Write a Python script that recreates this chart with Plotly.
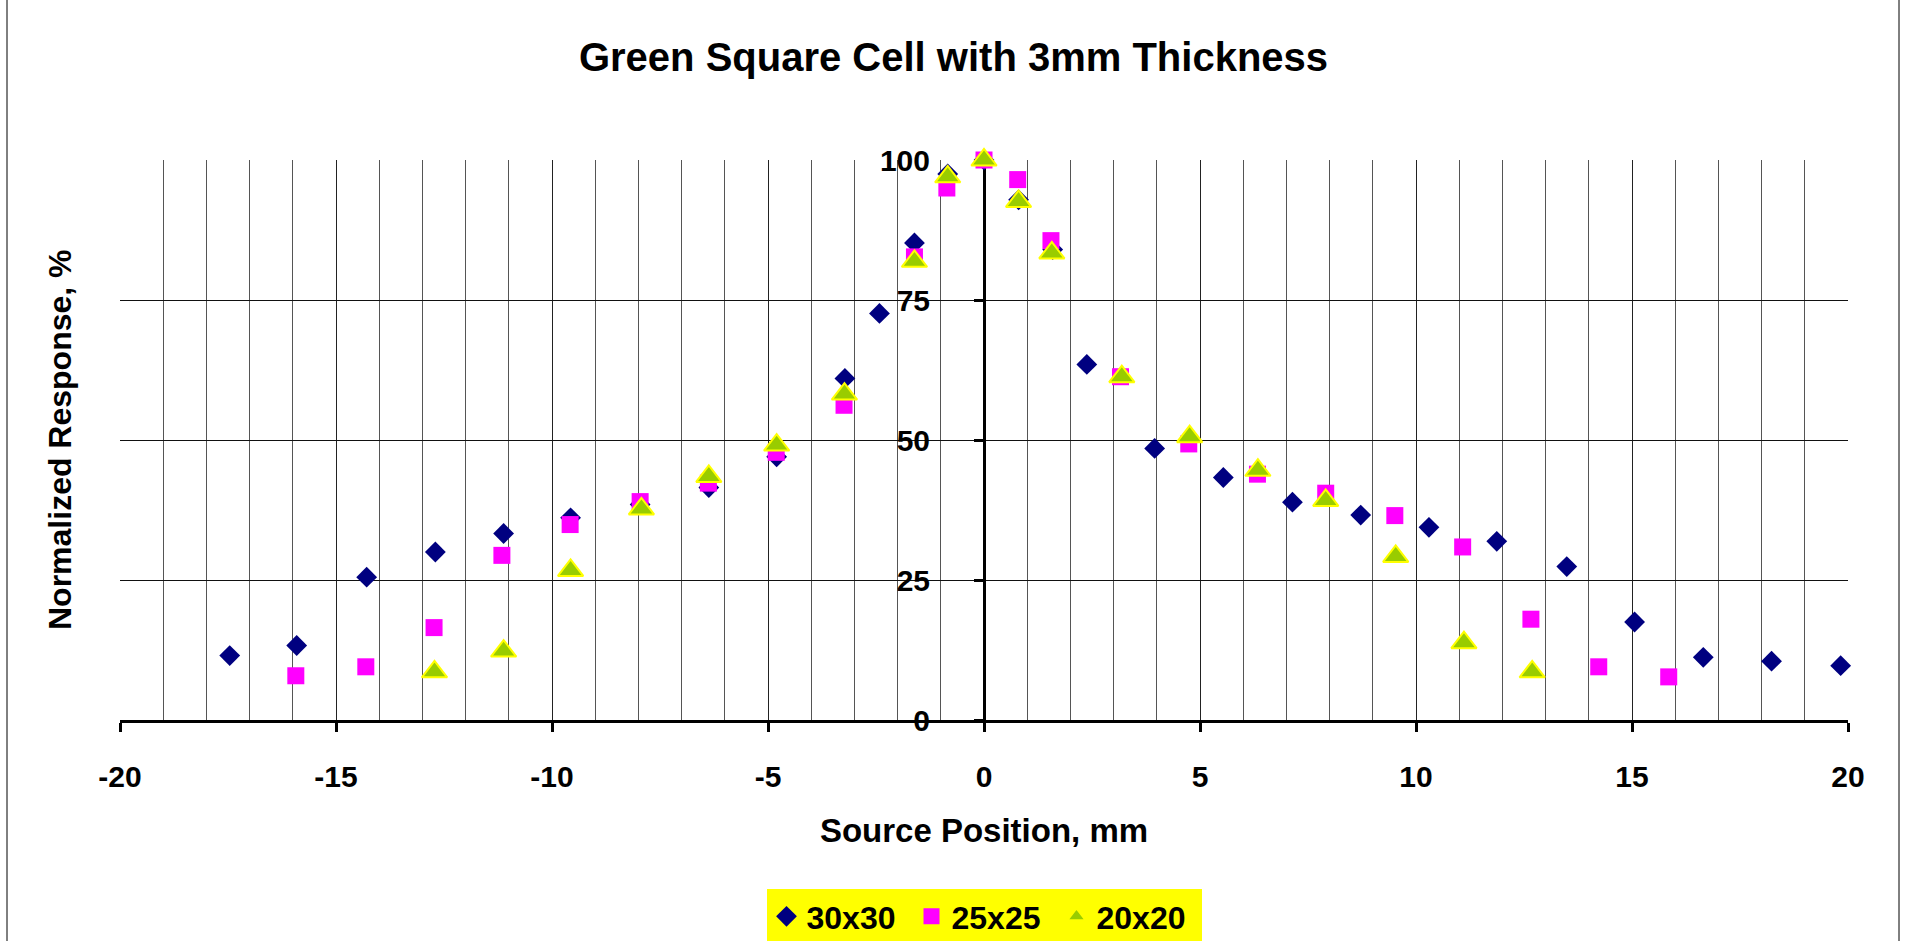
import plotly.graph_objects as go

# ---- data ----
x_30 = [-17.46, -15.91, -14.29, -12.70, -11.12, -9.57, -7.96, -6.37, -4.80, -3.22, -2.42, -1.61, -0.84, 0.0,
        0.80, 1.59, 2.38, 3.95, 5.54, 7.14, 8.72, 10.30, 11.87, 13.49, 15.06, 16.65, 18.23, 19.83]
y_30 = [11.5, 13.3, 25.5, 30.0, 33.3, 36.1, 38.5, 41.5, 47.0, 61.0, 72.6, 85.2, 97.5, 100.0,
        92.9, 84.0, 63.5, 48.5, 43.3, 38.9, 36.6, 34.4, 31.9, 27.4, 17.5, 11.2, 10.5, 9.7]

x_25 = [-15.93, -14.31, -12.73, -11.16, -9.58, -7.96, -6.38, -4.81, -3.24, -1.61, -0.86, 0.0,
        0.78, 1.55, 3.16, 4.74, 6.33, 7.91, 9.51, 11.08, 12.66, 14.23, 15.85]
y_25 = [7.9, 9.5, 16.5, 29.4, 34.9, 39.0, 42.3, 47.8, 56.2, 82.7, 95.0, 100.0,
        96.5, 85.6, 61.3, 49.3, 43.9, 40.5, 36.5, 30.9, 18.0, 9.5, 7.7]

x_20 = [-12.72, -11.12, -9.57, -7.93, -6.37, -4.80, -3.23, -1.61, -0.84, 0.0,
        0.80, 1.57, 3.19, 4.76, 6.34, 7.91, 9.53, 11.11, 12.69]
y_20 = [8.6, 12.3, 26.7, 37.7, 43.5, 49.1, 58.2, 81.9, 97.0, 100.0,
        92.6, 83.4, 61.3, 50.6, 44.6, 39.2, 29.2, 13.8, 8.6]

series_names = ["30x30", "25x25", "20x20"]
x_ticks = [-20, -15, -10, -5, 0, 5, 10, 15, 20]
y_ticks = [0, 25, 50, 75, 100]

FONT = "Liberation Sans, Arial, sans-serif"

fig = go.Figure()
fig.add_trace(go.Scatter(
    x=x_30, y=y_30, mode="markers", name=series_names[0], cliponaxis=False,
    marker=dict(symbol="diamond", size=16, color="#000080", line=dict(width=0))))
fig.add_trace(go.Scatter(
    x=x_25, y=y_25, mode="markers", name=series_names[1], cliponaxis=False,
    marker=dict(symbol="square", size=17, color="#FF00FF", line=dict(width=0))))
fig.add_trace(go.Scatter(
    x=x_20, y=y_20, mode="markers", name=series_names[2], cliponaxis=False,
    marker=dict(symbol="triangle-up", size=22, color="#99CC00",
                line=dict(width=2, color="#FFFF00"))))

fig.update_layout(
    width=1907, height=941,
    margin=dict(l=120, r=59, t=160, b=221, autoexpand=False),
    paper_bgcolor="white", plot_bgcolor="white",
    font=dict(family=FONT, color="black"),
    title=dict(text="Green Square Cell with 3mm Thickness", x=0.5, xanchor="center",
               y=1 - 57 / 941, yanchor="middle",
               font=dict(size=40, weight="bold", family=FONT, color="black")),
    xaxis=dict(
        range=[-20, 20], tickvals=x_ticks, ticktext=[str(v) for v in x_ticks],
        showgrid=True, gridcolor="#222222", gridwidth=1,
        minor=dict(dtick=1, showgrid=True, gridcolor="#555555", gridwidth=1, ticks=""),
        showline=True, linecolor="black", linewidth=3,
        ticks="outside", ticklen=9, tickwidth=3, tickcolor="black",
        zeroline=False, ticklabelstandoff=19,
        tickfont=dict(size=30, weight="bold", family=FONT, color="black"),
        title=dict(text="Source Position, mm", standoff=27,
                   font=dict(size=33, weight="bold", family=FONT, color="black")),
        layer="below traces",
    ),
    yaxis=dict(
        range=[0, 100], tickvals=y_ticks, ticktext=[str(v) for v in y_ticks],
        anchor="free", position=0.5,
        showgrid=True, gridcolor="#111111", gridwidth=1,
        showline=True, linecolor="black", linewidth=3,
        ticks="outside", ticklen=9, tickwidth=3, tickcolor="black",
        zeroline=False, ticklabelstandoff=38,
        tickfont=dict(size=30, weight="bold", family=FONT, color="black"),
        layer="below traces",
    ),
    yaxis2=dict(
        range=[0, 100], tickvals=y_ticks, overlaying="y", anchor="free", position=0.5,
        side="right", showgrid=False, showline=False, zeroline=False,
        ticks="outside", ticklen=9, tickwidth=3, tickcolor="black",
        showticklabels=False, layer="below traces",
    ),
    showlegend=True,
    legend=dict(orientation="h", x=0.5, xanchor="center", y=(720 - 889) / 560, yanchor="top",
                bgcolor="#FFFF00", borderwidth=0,
                font=dict(size=32, weight="bold", family=FONT, color="black"),
                itemwidth=30, entrywidth=100),
    annotations=[dict(text="Normalized Response, %", xref="paper", yref="paper",
                      x=(60 - 120) / 1728, y=0.5, xanchor="center", yanchor="middle",
                      textangle=-90, showarrow=False,
                      font=dict(size=32, weight="bold", family=FONT, color="black"))],
    shapes=[
        dict(type="line", xref="paper", yref="paper", x0=(7 - 120) / 1728, x1=(7 - 120) / 1728,
             y0=(720 - 0) / 560, y1=(720 - 960) / 560, line=dict(color="black", width=1)),
        dict(type="line", xref="paper", yref="paper", x0=(1899 - 120) / 1728, x1=(1899 - 120) / 1728,
             y0=(720 - 0) / 560, y1=(720 - 960) / 560, line=dict(color="black", width=1)),
    ],
)

fig.write_html("out.html", config={"displayModeBar": False},
               post_script="document.body.style.margin='0';document.body.style.overflow='hidden';")
